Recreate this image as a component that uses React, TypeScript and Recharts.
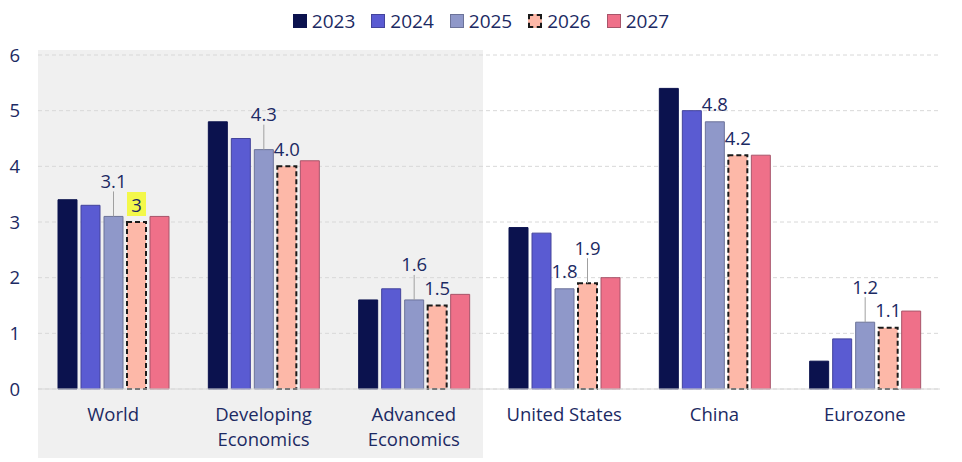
import React from 'react';
import { BarChart, Bar, XAxis, YAxis, CartesianGrid, LabelList } from 'recharts';

// ── Data ──────────────────────────────────────────────────────────────────────
const CATEGORIES = ['World', 'Developing Economics', 'Advanced Economics', 'United States', 'China', 'Eurozone'];
const YEARS = ['2023', '2024', '2025', '2026', '2027'];
const V2023 = [3.4, 4.8, 1.6, 2.9, 5.4, 0.5];
const V2024 = [3.3, 4.5, 1.8, 2.8, 5.0, 0.9];
const V2025 = [3.1, 4.3, 1.6, 1.8, 4.8, 1.2];
const V2026 = [3.0, 4.0, 1.5, 1.9, 4.2, 1.1];
const V2027 = [3.1, 4.1, 1.7, 2.0, 4.2, 1.4];
const LABELS_2025 = ['3.1', '4.3', '1.6', '1.8', '4.8', '1.2'];
const LABELS_2026 = ['3', '4.0', '1.5', '1.9', '4.2', '1.1'];
const Y_TICKS = [0, 1, 2, 3, 4, 5, 6];

// labels pulled up with a leader line, and the one highlighted label
const LEADER: Record<string, string[]> = {
  '2025': ['World', 'Developing Economics', 'Advanced Economics', 'Eurozone'],
  '2026': ['United States'],
};
const HIGHLIGHT: Record<string, string> = { '2026': 'World' };

const VALUES = [V2023, V2024, V2025, V2026, V2027];
const data = CATEGORIES.map((name, i) => {
  const row: any = { name, lbl2025: LABELS_2025[i], lbl2026: LABELS_2026[i] };
  YEARS.forEach((y, k) => { row[y] = VALUES[k][i]; });
  return row;
});

// ── Styles ────────────────────────────────────────────────────────────────────
const FONT = '"Open Sans", "Noto Sans", sans-serif';
const TEXT = '#1c2a63';
const FS = 18.5;
const COLORS: Record<string, string> = {
  '2023': '#0b124e',
  '2024': '#5a5bd2',
  '2025': '#8f98c9',
  '2026': '#fdb8a8',
  '2027': '#ef7089',
};
const STROKES: Record<string, string> = {
  '2023': '#0b124e',
  '2024': '#44449c',
  '2025': '#6c7399',
  '2026': '#1a1a1a',
  '2027': '#a8556a',
};

const makeLabel = (year: string) => (props: any) => {
  const { x, y, width, value, index } = props;
  if (value == null || value === '') return null;
  const cat = CATEGORIES[index];
  const cx = x + width / 2;
  const leader = (LEADER[year] || []).includes(cat);
  const highlight = HIGHLIGHT[year] === cat;
  const ty = leader ? y - 36 : y - 18;
  return (
    <g>
      {leader && <line x1={cx} x2={cx} y1={ty + 11} y2={y} stroke="#a0a0a0" strokeWidth={1} />}
      {highlight && <rect x={cx - 9.5} y={ty - 12} width={19} height={24} fill="#f3f84a" />}
      <text x={cx} y={ty} textAnchor="middle" dominantBaseline="central" fill={TEXT} fontSize={FS} fontFamily={FONT}>
        {value}
      </text>
    </g>
  );
};

const XTick = ({ x, y, payload }: any) => {
  const v: string = payload.value;
  const lines = v.length > 14 ? v.split(' ') : [v];
  return (
    <text x={x} textAnchor="middle" fill={TEXT} fontSize={FS} fontFamily={FONT}>
      {lines.map((l, i) => (
        <tspan key={i} x={x} y={y + 16 + i * 25} dominantBaseline="central">{l}</tspan>
      ))}
    </text>
  );
};

const ChartLegend = () => (
  <div
    style={{
      position: 'absolute', left: 0, top: 8, width: 962, height: 26,
      display: 'flex', justifyContent: 'center', alignItems: 'center', gap: 16,
      fontFamily: FONT, fontSize: 19, color: TEXT,
    }}
  >
    {YEARS.map((y) => (
      <div key={y} style={{ display: 'flex', alignItems: 'center', gap: 5 }}>
        <span
          style={{
            width: y === '2026' ? 10 : 12,
            height: y === '2026' ? 10 : 12,
            background: COLORS[y],
            border: y === '2026' ? '2px dashed #1a1a1a' : `1px solid ${STROKES[y]}`,
            display: 'inline-block',
          }}
        />
        <span>{y}</span>
      </div>
    ))}
  </div>
);

export default function App() {
  return (
    <div style={{ position: 'absolute', left: 0, top: 0, width: 962, height: 462, background: '#fff' }}>
      <div style={{ position: 'absolute', left: 38, top: 50, width: 445, height: 408, background: '#f0f0f0' }} />
      <ChartLegend />
      <div style={{ position: 'absolute', left: 0, top: 0 }}>
        <BarChart
          width={962}
          height={462}
          data={data}
          margin={{ top: 55, right: 22, left: 0, bottom: 0 }}
          barSize={19}
          barGap={4}
        >
          <CartesianGrid horizontal vertical={false} stroke="#d8d8d8" strokeDasharray="4 3" />
          <XAxis
            dataKey="name"
            height={73}
            axisLine={{ stroke: '#d8d8d8' }}
            tickLine={false}
            interval={0}
            tick={<XTick />}
          />
          <YAxis
            width={38}
            domain={[0, 6]}
            ticks={Y_TICKS}
            axisLine={false}
            tickLine={false}
            tickMargin={12}
            tick={{ fill: TEXT, fontSize: FS, fontFamily: FONT }}
          />
          {YEARS.map((y) => (
            <Bar
              key={y}
              dataKey={y}
              fill={COLORS[y]}
              stroke={STROKES[y]}
              strokeWidth={y === '2026' ? 2 : 1}
              strokeDasharray={y === '2026' ? '5 3' : undefined}
              isAnimationActive={false}
            >
              {(y === '2025' || y === '2026') && (
                <LabelList dataKey={`lbl${y}`} content={makeLabel(y)} />
              )}
            </Bar>
          ))}
        </BarChart>
      </div>
    </div>
  );
}
